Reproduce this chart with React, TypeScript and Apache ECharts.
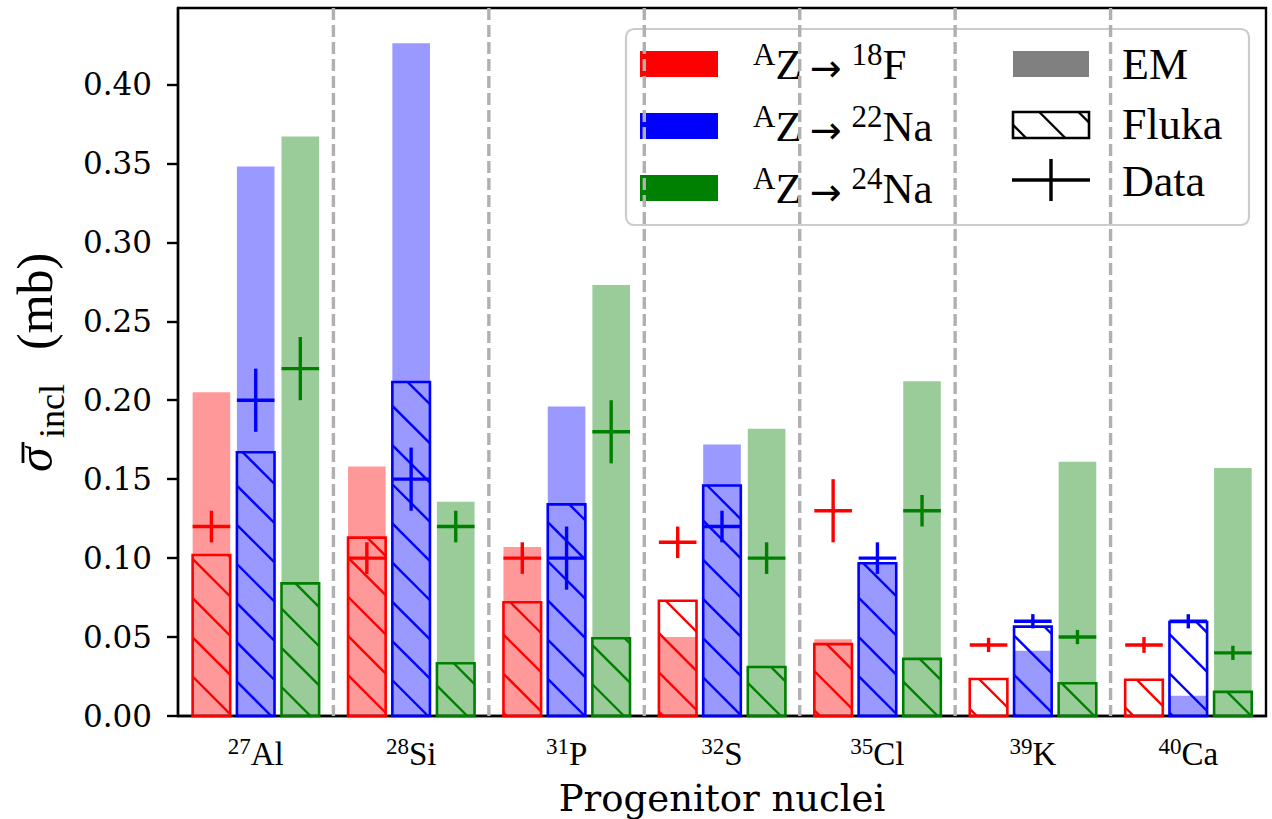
import React, { useEffect, useRef } from 'react';
import * as echarts from 'echarts';

// ---- data ----
const massNumbers = ['27', '28', '31', '32', '35', '39', '40'];
const elements = ['Al', 'Si', 'P', 'S', 'Cl', 'K', 'Ca'];
const yTicks = [0, 0.05, 0.1, 0.15, 0.2, 0.25, 0.3, 0.35, 0.4];
const Y_MAX = 0.4484;

// A Z -> 18F
const emF18 = [0.205, 0.158, 0.107, 0.050, 0.0486, 0.0008, 0.0008];
const flukaF18 = [0.102, 0.113, 0.072, 0.073, 0.0455, 0.0234, 0.0230];
const dataF18 = [0.12, 0.10, 0.10, 0.11, 0.13, 0.045, 0.045];
const errF18 = [0.01, 0.01, 0.01, 0.01, 0.02, 0.0045, 0.005];

// A Z -> 22Na
const emNa22 = [0.348, 0.426, 0.196, 0.172, 0.097, 0.0413, 0.0129];
const flukaNa22 = [0.167, 0.2115, 0.134, 0.146, 0.0967, 0.0566, 0.0595];
const dataNa22 = [0.20, 0.15, 0.10, 0.12, 0.10, 0.06, 0.06];
const errNa22 = [0.02, 0.02, 0.02, 0.01, 0.01, 0.0045, 0.0045];

// A Z -> 24Na
const emNa24 = [0.367, 0.1357, 0.273, 0.182, 0.212, 0.161, 0.157];
const flukaNa24 = [0.084, 0.0334, 0.0492, 0.031, 0.0362, 0.0207, 0.0153];
const dataNa24 = [0.22, 0.12, 0.18, 0.10, 0.13, 0.05, 0.04];
const errNa24 = [0.02, 0.01, 0.02, 0.01, 0.01, 0.0045, 0.0045];

const legendLabels = [
  ['18', 'F'],
  ['22', 'Na'],
  ['24', 'Na'],
];
const legendRight = ['EM', 'Fluka', 'Data'];

// ---- styles ----
const edgeColors = ['#ff0000', '#0000ff', '#008000'];
const fillColors = ['rgba(255,0,0,0.4)', 'rgba(0,0,255,0.4)', 'rgba(0,128,0,0.4)'];
const OFFSETS = [-0.285, 0, 0.287];
const BAR_W = 0.242;
const HATCH_SPACING = 39.2;
const HATCH_PHASE = 13.5;
const SERIF = 'DejaVu Serif';
const MATH = 'Liberation Serif';

function hatchSegments(x0: number, y0: number, x1: number, y1: number) {
  const segs: number[][] = [];
  const cMin = y0 - x1;
  const cMax = y1 - x0;
  let k = Math.ceil((cMin - HATCH_PHASE) / HATCH_SPACING);
  for (; ; k++) {
    const c = HATCH_PHASE + k * HATCH_SPACING;
    if (c > cMax) break;
    const xa = Math.max(x0, y0 - c);
    const xb = Math.min(x1, y1 - c);
    if (xb > xa) segs.push([xa, xa + c, xb, xb + c]);
  }
  return segs;
}

const productSets = [
  [emF18, flukaF18, dataF18, errF18],
  [emNa22, flukaNa22, dataNa22, errNa22],
  [emNa24, flukaNa24, dataNa24, errNa24],
];

function makeBarSeries(p: number) {
  const [em, fl, d, e] = productSets[p];
  const rows = massNumbers.map((_, i) => [i, em[i], fl[i], d[i], e[i]]);
  return {
    type: 'custom',
    data: rows,
    z: 5,
    renderItem: (params: any, api: any) => {
      const i = api.value(0);
      const band = api.size([1, 0])[0];
      const base = api.coord([i, 0]);
      const cx = base[0] + OFFSETS[p] * band;
      const w = band * BAR_W;
      const xL = cx - w / 2;
      const xR = cx + w / 2;
      const yB = base[1];
      const yEm = api.coord([i, api.value(1)])[1];
      const yFl = api.coord([i, api.value(2)])[1];
      const dv = api.value(3);
      const ev = api.value(4);
      const yD = api.coord([i, dv])[1];
      const yDt = api.coord([i, dv + ev])[1];
      const yDb = api.coord([i, dv - ev])[1];
      const children: any[] = [];
      children.push({
        type: 'rect',
        shape: { x: xL, y: yEm, width: w, height: yB - yEm },
        style: { fill: fillColors[p] },
      });
      hatchSegments(xL, yFl, xR, yB).forEach((s) => {
        children.push({
          type: 'line',
          shape: { x1: s[0], y1: s[1], x2: s[2], y2: s[3] },
          style: { stroke: edgeColors[p], lineWidth: 2.4 },
        });
      });
      children.push({
        type: 'rect',
        shape: { x: xL, y: yFl, width: w, height: yB - yFl },
        style: { fill: 'none', stroke: edgeColors[p], lineWidth: 2.6 },
      });
      children.push({
        type: 'line',
        shape: { x1: xL, y1: yD, x2: xR, y2: yD },
        style: { stroke: edgeColors[p], lineWidth: 3.4 },
      });
      children.push({
        type: 'line',
        shape: { x1: cx, y1: yDt, x2: cx, y2: yDb },
        style: { stroke: edgeColors[p], lineWidth: 3.4 },
      });
      return { type: 'group', children };
    },
  };
}

const separatorSeries = {
  type: 'custom',
  data: [0, 1, 2, 3, 4, 5].map((i) => [i]),
  z: 1,
  renderItem: (params: any, api: any) => {
    const i = api.value(0);
    const band = api.size([1, 0])[0];
    const b = api.coord([i, 0]);
    const t = api.coord([i, Y_MAX]);
    const x = b[0] + band / 2;
    return {
      type: 'line',
      shape: { x1: x, y1: t[1], x2: x, y2: b[1] },
      style: { stroke: '#b0b0b0', lineWidth: 3.4, lineDash: [12, 5] },
    };
  },
};

const tickRich = {
  sup: { fontFamily: MATH, fontSize: 23, lineHeight: 23, verticalAlign: 'top', color: '#000' },
  m: { fontFamily: MATH, fontSize: 33, lineHeight: 38, color: '#000' },
};

const legendRich = {
  sup: { fontFamily: MATH, fontSize: 31, lineHeight: 31, verticalAlign: 'top', color: '#000' },
  m: { fontFamily: MATH, fontSize: 43, lineHeight: 51, color: '#000' },
  ar: { fontFamily: 'DejaVu Sans', fontSize: 38, lineHeight: 51, color: '#000', padding: [8, 10, 0, 8] },
};

function buildLegend() {
  const els: any[] = [];
  els.push({
    type: 'rect',
    shape: { x: 626, y: 29, width: 623, height: 196, r: 8 },
    style: { fill: 'rgba(255,255,255,0.8)', stroke: '#cccccc', lineWidth: 2.2 },
  });
  const rowsY = [64, 126, 188];
  rowsY.forEach((cy, p) => {
    els.push({
      type: 'rect',
      shape: { x: 640, y: cy - 13, width: 78, height: 26 },
      style: { fill: edgeColors[p] },
    });
    els.push({
      type: 'text',
      x: 753,
      y: cy,
      style: {
        text: `{sup|A}{m|Z}{ar|→}{sup|${legendLabels[p][0]}}{m|${legendLabels[p][1]}}`,
        rich: legendRich,
        verticalAlign: 'middle',
        align: 'left',
      },
    });
  });
  // EM
  els.push({ type: 'rect', shape: { x: 1013, y: 51, width: 76, height: 26 }, style: { fill: '#808080' } });
  // Fluka
  hatchSegments(1013, 112, 1089, 138).forEach((s) => {
    els.push({
      type: 'line',
      shape: { x1: s[0], y1: s[1], x2: s[2], y2: s[3] },
      style: { stroke: '#000', lineWidth: 2.4 },
    });
  });
  els.push({
    type: 'rect',
    shape: { x: 1013, y: 112, width: 76, height: 26 },
    style: { fill: 'none', stroke: '#000', lineWidth: 2.6 },
  });
  // Data
  els.push({ type: 'line', shape: { x1: 1012, y1: 180, x2: 1090, y2: 180 }, style: { stroke: '#000', lineWidth: 3.4 } });
  els.push({ type: 'line', shape: { x1: 1051, y1: 159, x2: 1051, y2: 201 }, style: { stroke: '#000', lineWidth: 3.4 } });
  const rightY = [64, 124, 181];
  legendRight.forEach((t, k) => {
    els.push({
      type: 'text',
      x: 1122,
      y: rightY[k],
      style: { text: t, fontFamily: MATH, fontSize: 44, fill: '#000', verticalAlign: 'middle', align: 'left' },
    });
  });
  return { type: 'group', z: 100, children: els };
}

function buildYLabel() {
  // local coordinates: x along reading direction (screen up), y = screen x
  return {
    type: 'group',
    x: 0,
    y: 362,
    rotation: Math.PI / 2,
    z: 50,
    children: [
      {
        type: 'text',
        x: -110,
        y: 35,
        style: { text: 'σ', font: 'italic 50px "Liberation Serif"', fill: '#000', verticalAlign: 'middle', align: 'left' },
      },
      {
        type: 'line',
        shape: { x1: -101, y1: 23, x2: -80, y2: 23 },
        style: { stroke: '#000', lineWidth: 2.8 },
      },
      {
        type: 'text',
        x: -76,
        y: 52,
        style: { text: 'incl', font: '36px "Liberation Serif"', fill: '#000', verticalAlign: 'middle', align: 'left' },
      },
      {
        type: 'text',
        x: 12,
        y: 35,
        style: { text: '(mb)', font: '50px "Liberation Serif"', fill: '#000', verticalAlign: 'middle', align: 'left' },
      },
    ],
  };
}

export default function App() {
  const ref = useRef<HTMLDivElement>(null);
  useEffect(() => {
    if (!ref.current) return;
    const chart = echarts.init(ref.current, undefined, { renderer: 'svg' });
    chart.setOption({
      animation: false,
      backgroundColor: '#ffffff',
      grid: {
        left: 178,
        top: 8,
        width: 1088,
        height: 708,
        show: true,
        borderColor: '#000',
        borderWidth: 2.4,
        containLabel: false,
        outerBoundsMode: 'none',
      },
      xAxis: {
        type: 'category',
        data: elements,
        boundaryGap: true,
        axisLine: { show: true, lineStyle: { color: '#000', width: 2.4 } },
        axisTick: { show: false },
        splitLine: { show: false },
        axisLabel: {
          margin: 19,
          formatter: (v: string, idx: number) => `{sup|${massNumbers[idx]}}{m|${elements[idx]}}`,
          rich: tickRich,
        },
        name: 'Progenitor nuclei',
        nameLocation: 'middle',
        nameGap: 64,
        nameTextStyle: { fontFamily: SERIF, fontSize: 37, color: '#000' },
      },
      yAxis: {
        type: 'value',
        min: 0,
        max: Y_MAX,
        axisLine: { show: true, lineStyle: { color: '#000', width: 2.4 } },
        axisTick: { show: true, inside: false, length: 11, lineStyle: { color: '#000', width: 2.4 }, customValues: yTicks },
        splitLine: { show: false },
        axisLabel: {
          customValues: yTicks,
          margin: 26,
          fontFamily: SERIF,
          fontSize: 31,
          color: '#000',
          formatter: (v: number) => v.toFixed(2),
        },
      },
      series: [separatorSeries, makeBarSeries(0), makeBarSeries(1), makeBarSeries(2)],
      graphic: [buildLegend(), buildYLabel()],
    });
    return () => chart.dispose();
  }, []);
  return (
    <div
      ref={ref}
      style={{ position: 'absolute', left: 0, top: 0, width: '1272px', height: '819px' }}
    />
  );
}
